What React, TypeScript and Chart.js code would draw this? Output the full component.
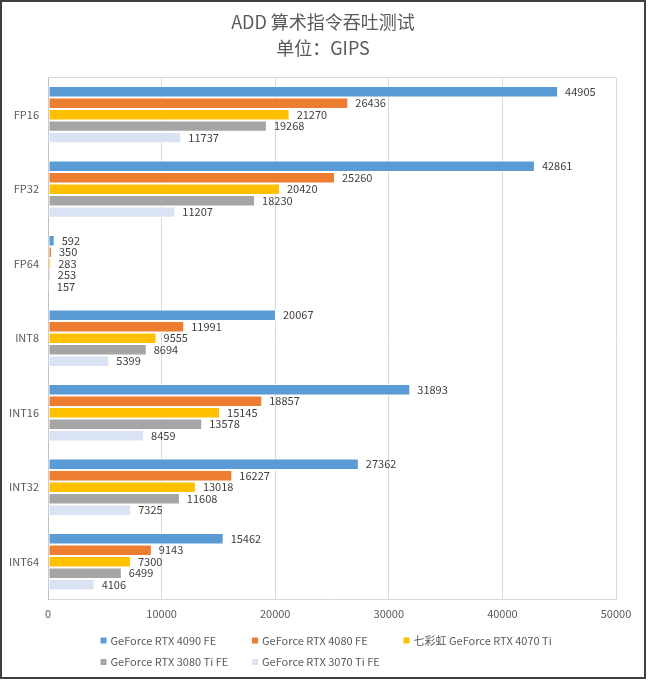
import React, { useEffect, useRef } from "react";
import { Chart, registerables } from "chart.js";

Chart.register(...registerables);

const categories = ["FP16", "FP32", "FP64", "INT8", "INT16", "INT32", "INT64"];
const seriesLabels = [
  "GeForce RTX 4090 FE",
  "GeForce RTX 4080 FE",
  "七彩虹 GeForce RTX 4070 Ti",
  "GeForce RTX 3080 Ti FE",
  "GeForce RTX 3070 Ti FE",
];
const rtx4090 = [44905, 42861, 592, 20067, 31893, 27362, 15462];
const rtx4080 = [26436, 25260, 350, 11991, 18857, 16227, 9143];
const rtx4070ti = [21270, 20420, 283, 9555, 15145, 13018, 7300];
const rtx3080ti = [19268, 18230, 253, 8694, 13578, 11608, 6499];
const rtx3070ti = [11737, 11207, 157, 5399, 8459, 7325, 4106];
const xTicks = [0, 10000, 20000, 30000, 40000, 50000];

const seriesValues = [rtx4090, rtx4080, rtx4070ti, rtx3080ti, rtx3070ti];
const seriesColors = ["#5B9BD5", "#ED7D31", "#FFC000", "#A5A5A5", "#DAE3F3"];

const FONT = '"Noto Sans CJK SC", "Noto Sans", sans-serif';

const frameTopPlugin = {
  id: "frameTop",
  beforeDatasetsDraw(chart: any) {
    const { ctx, chartArea } = chart;
    ctx.save();
    ctx.strokeStyle = "#D9D9D9";
    ctx.lineWidth = 1;
    ctx.beginPath();
    ctx.moveTo(chartArea.left, Math.round(chartArea.top) + 0.5);
    ctx.lineTo(chartArea.right, Math.round(chartArea.top) + 0.5);
    ctx.stroke();
    ctx.restore();
  },
};

const valueLabelPlugin = {
  id: "valueLabels",
  afterDatasetsDraw(chart: any) {
    const { ctx } = chart;
    ctx.save();
    ctx.font = `11px ${FONT}`;
    ctx.fillStyle = "#404040";
    ctx.textAlign = "left";
    ctx.textBaseline = "middle";
    chart.data.datasets.forEach((ds: any, i: number) => {
      const meta = chart.getDatasetMeta(i);
      meta.data.forEach((el: any, j: number) => {
        ctx.fillText(String(ds.data[j]), el.x + 7, el.y);
      });
    });
    ctx.restore();
  },
};

const legendPositions = [
  { x: 98.5, y: 638.5 },
  { x: 250, y: 638.5 },
  { x: 401.5, y: 638.5 },
  { x: 98.5, y: 660 },
  { x: 250, y: 660 },
];

const customLegendPlugin = {
  id: "customLegend",
  afterDraw(chart: any) {
    const { ctx } = chart;
    ctx.save();
    ctx.font = `11px ${FONT}`;
    ctx.textAlign = "left";
    ctx.textBaseline = "middle";
    chart.data.datasets.forEach((ds: any, i: number) => {
      const p = legendPositions[i];
      ctx.fillStyle = ds.backgroundColor;
      ctx.fillRect(p.x, p.y - 3, 6, 6);
      ctx.fillStyle = "#595959";
      ctx.fillText(ds.label, p.x + 10, p.y);
    });
    ctx.restore();
  },
};

export default function App() {
  const canvasRef = useRef<HTMLCanvasElement | null>(null);

  useEffect(() => {
    if (!canvasRef.current) return;
    const chart = new Chart(canvasRef.current, {
      type: "bar",
      data: {
        labels: categories,
        datasets: seriesLabels.map((label, i) => ({
          label,
          data: seriesValues[i],
          backgroundColor: seriesColors[i],
          borderColor: "#FFFFFF",
          borderWidth: 1,
          borderSkipped: false,
          barPercentage: 1,
          categoryPercentage: 0.77,
        })),
      },
      options: {
        indexAxis: "y",
        animation: false,
        responsive: false,
        maintainAspectRatio: false,
        layout: { padding: { left: 0, right: 0, top: 0, bottom: 50 } },
        plugins: {
          legend: { display: false },
          tooltip: { enabled: false },
          title: {
            display: true,
            text: ["ADD 算术指令吞吐测试", "单位：GIPS"],
            color: "#595959",
            font: { family: FONT, size: 18, weight: "normal", lineHeight: 1.4 },
            padding: { top: 8, bottom: 17 },
          },
        },
        scales: {
          x: {
            min: 0,
            max: 50000,
            afterBuildTicks: (scale: any) => {
              scale.ticks = xTicks.map((v) => ({ value: v }));
            },
            afterFit: (scale: any) => {
              scale.height = 28;
            },
            grid: { color: "#D9D9D9", drawTicks: false, lineWidth: 1 },
            border: { color: "#D9D9D9" },
            ticks: {
              color: "#595959",
              font: { family: FONT, size: 11 },
              padding: 8,
              maxRotation: 0,
              callback: (v: any) => String(v),
            },
          },
          y: {
            afterFit: (scale: any) => {
              scale.width = 46;
            },
            grid: { display: false, drawTicks: false },
            border: { color: "#BFBFBF" },
            ticks: {
              color: "#595959",
              font: { family: FONT, size: 11 },
              padding: 9,
            },
          },
          yRight: {
            type: "category",
            position: "right",
            labels: categories,
            afterFit: (scale: any) => {
              scale.width = 28;
            },
            grid: { display: false, drawTicks: false },
            border: { display: false },
            ticks: { display: false },
          },
        },
      },
      plugins: [frameTopPlugin, valueLabelPlugin, customLegendPlugin],
    } as any);
    return () => chart.destroy();
  }, []);

  return (
    <div
      style={{
        position: "fixed",
        left: 0,
        top: 0,
        width: 646,
        height: 679,
        boxSizing: "border-box",
        border: "2px solid #404040",
        background: "#FFFFFF",
      }}
    >
      <canvas ref={canvasRef} width={642} height={675} style={{ display: "block" }} />
    </div>
  );
}
